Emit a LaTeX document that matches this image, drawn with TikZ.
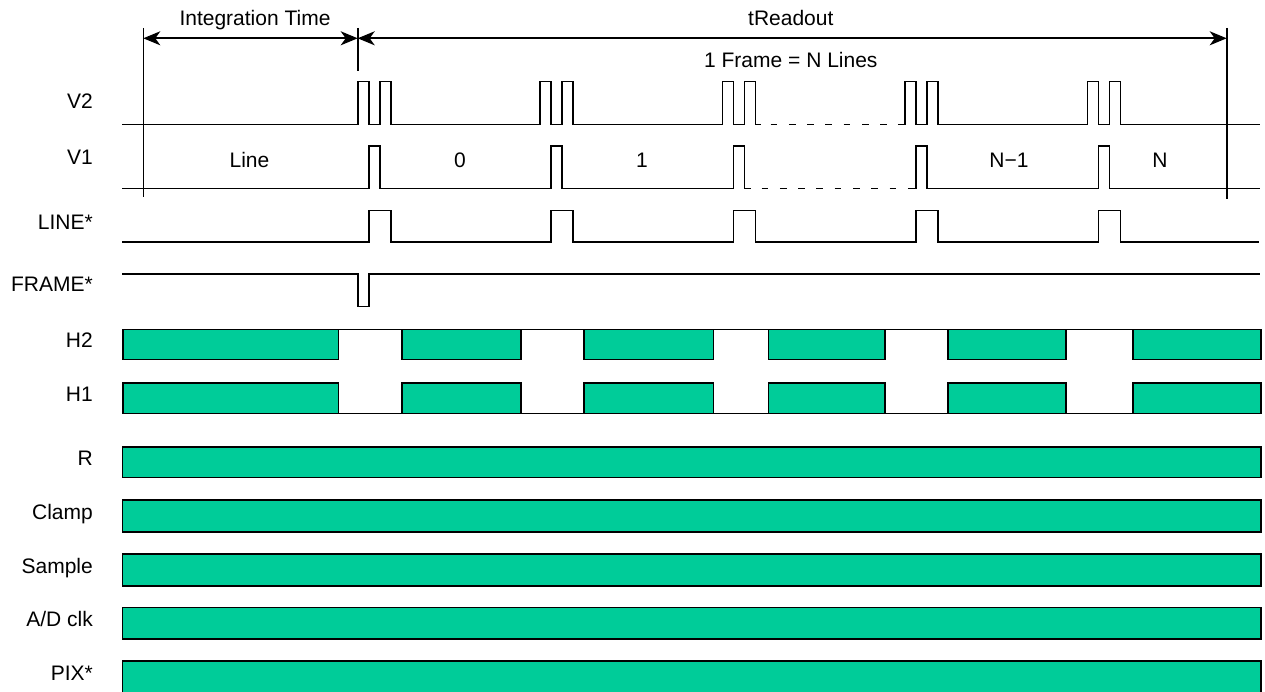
\documentclass[tikz,border=0pt]{standalone}
\usepackage{fontspec}
\setmainfont{Liberation Sans}
\usetikzlibrary{arrows.meta}
\definecolor{barfill}{RGB}{0,204,153}
\tikzset{
  sig/.style={line width=1.6pt, line join=miter},
  dashsig/.style={line width=1.6pt, dash pattern=on 6.7pt off 11.6pt},
  bar/.style={draw=black, line width=1.6pt, fill=barfill},
  lbl/.style={anchor=base east, font=\fontsize{21}{25}\selectfont, inner sep=0pt},
  txt/.style={anchor=base, font=\fontsize{21}{25}\selectfont, inner sep=0pt},
  guide/.style={line width=1.6pt},
  dimarrow/.style={line width=1.6pt, {Stealth[length=17pt,width=14pt,inset=5pt]}-{Stealth[length=17pt,width=14pt,inset=5pt]}}
}
\begin{document}
\begin{tikzpicture}[x=1pt,y=-1pt]
\useasboundingbox (0,0) rectangle (1265,692);
% group starts
\def\sA{357.7}\def\sB{540.1}\def\sC{722.5}\def\sD{904.9}\def\sE{1087.3}

% guide lines
\coordinate (gLt) at (143.3,28); \coordinate (gLb) at (143.3,197);
\coordinate (gMt) at (357.7,28); \coordinate (gMb) at (357.7,71);
\coordinate (gRt) at (1226.7,28); \coordinate (gRb) at (1226.7,199);
\draw[guide] (gLt) -- (gLb);
\draw[guide] (gMt) -- (gMb);
\draw[guide] (gRt) -- (gRb);
\coordinate (aL) at (143.3,38.3);
\coordinate (aM) at (357.7,38.3);
\coordinate (aR) at (1226.7,38.3);
\draw[dimarrow] (aL) -- (aM);
\draw[dimarrow] (aM) -- (aR);

% top texts
\node[txt] (tInt) at (255,26) {Integration Time};
\node[txt] (tRead) at (790.8,26) {tReadout};
\node[txt] (tFrame) at (790.8,68) {1 Frame = N Lines};

% signal labels
\node[lbl] (lV2) at (93,109) {V2};
\node[lbl] (lV1) at (93,165) {V1};
\node[lbl] (lLINE) at (93,230) {LINE*};
\node[lbl] (lFRAME) at (93,292) {FRAME*};
\node[lbl] (lH2) at (93,347) {H2};
\node[lbl] (lH1) at (93,401) {H1};
\node[lbl] (lR) at (93,465) {R};
\node[lbl] (lClamp) at (93,519) {Clamp};
\node[lbl] (lSample) at (93,573) {Sample};
\node[lbl] (lAD) at (93,626) {A/D clk};
\node[lbl] (lPIX) at (93,680) {PIX*};

% line numbers in V1 row
\node[txt] (nLine) at (249.5,168) {Line};
\node[txt] (n0) at (460,168) {0};
\node[txt] (n1) at (642,168) {1};
\node[txt] (nN1) at (1009,168) {N−1};
\node[txt] (nN) at (1160,168) {N};

% V2: base 124.5, high 81.5
\def\Bb{124.5}\def\Hh{81.5}
\draw[sig] (122,\Bb) \foreach \s in {\sA,\sB,\sC} {
  -- (\s,\Bb) -- (\s,\Hh) -- ({\s+11},\Hh) -- ({\s+11},\Bb) -- ({\s+22},\Bb) -- ({\s+22},\Hh) -- ({\s+33},\Hh) -- ({\s+33},\Bb)
} -- ({\sC+38},\Bb);
\draw[dashsig, dash phase=-10pt] ({\sC+38},\Bb) -- ({\sD-7},\Bb);
\draw[sig] ({\sD-7},\Bb) \foreach \s in {\sD,\sE} {
  -- (\s,\Bb) -- (\s,\Hh) -- ({\s+11},\Hh) -- ({\s+11},\Bb) -- ({\s+22},\Bb) -- ({\s+22},\Hh) -- ({\s+33},\Hh) -- ({\s+33},\Bb)
} -- (1260,\Bb);

% V1: base 188.5, high 146
\def\Bv{188.5}\def\Hv{146}
\draw[sig] (122,\Bv) \foreach \s in {\sA,\sB,\sC} {
  -- ({\s+11},\Bv) -- ({\s+11},\Hv) -- ({\s+22},\Hv) -- ({\s+22},\Bv)
} -- ({\sC+27},\Bv);
\draw[dashsig, dash phase=-12pt] ({\sC+27},\Bv) -- ({\sD+5},\Bv);
\draw[sig] ({\sD+5},\Bv) \foreach \s in {\sD,\sE} {
  -- ({\s+11},\Bv) -- ({\s+11},\Hv) -- ({\s+22},\Hv) -- ({\s+22},\Bv)
} -- (1260,\Bv);

% LINE*: base 242.3, high 210.7
\def\Bl{242.3}\def\Hl{210.7}
\draw[sig] (122,\Bl) \foreach \s in {\sA,\sB,\sC,\sD,\sE} {
  -- ({\s+11},\Bl) -- ({\s+11},\Hl) -- ({\s+33},\Hl) -- ({\s+33},\Bl)
} -- (1259,\Bl);

% FRAME*: base 274.3, low 306.7
\draw[sig] (122,274.3) -- (\sA,274.3) -- (\sA,306.7) -- ({\sA+11},306.7) -- ({\sA+11},274.3) -- (1260,274.3);

% H2 / H1 rails across the gaps
\draw[sig] (123,329.3) -- (1260.7,329.3);
\draw[sig] (123,413.3) -- (1260.7,413.3);

% H2 / H1 bars
\foreach \t/\b in {329.3/359.3, 382.7/413.3} {
  \foreach \xa/\xb in {123/338.3, 401.7/520.7, 584/713.3, 768.3/885, 948/1066, 1133/1260.7} {
    \draw[bar] (\xa,\t) rectangle (\xb,\b);
  }
}

% full bars
\foreach \t/\b in {446.7/477.3, 500/531.7, 554/585.7, 607.3/639, 661/693} {
  \draw[bar] (122.5,\t) rectangle (1260.7,\b);
}
\end{tikzpicture}
\end{document}
